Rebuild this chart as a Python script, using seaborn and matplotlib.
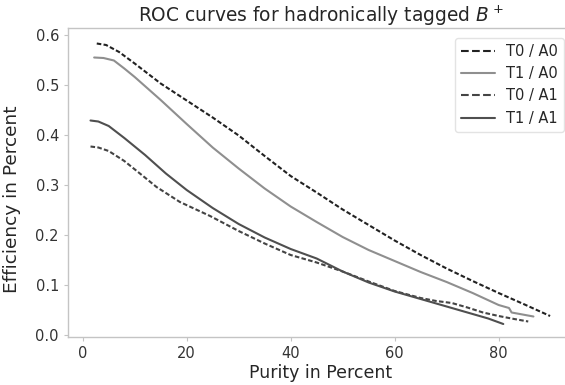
import matplotlib
matplotlib.use("Agg")
import matplotlib.pyplot as plt
from matplotlib.lines import Line2D
import pandas as pd
import seaborn as sns

# ROC curves (purity %, efficiency)
t0a0_x = [2.7, 4.5, 7, 10, 15, 20, 25, 30, 35, 40, 45, 50, 55, 60, 65, 70, 75, 80, 85, 89.9]
t0a0_y = [0.583, 0.580, 0.566, 0.543, 0.503, 0.469, 0.435, 0.399, 0.358, 0.318, 0.285, 0.251,
          0.220, 0.189, 0.160, 0.133, 0.108, 0.084, 0.061, 0.038]

t1a0_x = [2.2, 4, 6, 8, 10, 15, 20, 25, 30, 35, 40, 45, 50, 55, 60, 65, 70, 75, 80, 82, 82.5, 86.7]
t1a0_y = [0.555, 0.554, 0.549, 0.533, 0.516, 0.470, 0.422, 0.375, 0.333, 0.293, 0.257, 0.226,
          0.196, 0.170, 0.148, 0.126, 0.106, 0.084, 0.060, 0.054, 0.045, 0.037]

t0a1_x = [1.5, 3, 5, 8, 11.6, 14.2, 18.7, 24.5, 30, 35, 40, 45, 50, 55, 60, 65, 68, 71, 74, 77, 80, 83, 85.7]
t0a1_y = [0.377, 0.375, 0.368, 0.348, 0.318, 0.296, 0.266, 0.238, 0.208, 0.183, 0.160, 0.145,
          0.127, 0.107, 0.088, 0.074, 0.068, 0.064, 0.055, 0.045, 0.038, 0.032, 0.027]

t1a1_x = [1.5, 3, 5, 8, 12, 16, 20, 25, 30, 35, 40, 45, 50, 55, 60, 65, 70, 75, 78, 80.9]
t1a1_y = [0.429, 0.427, 0.418, 0.394, 0.360, 0.323, 0.290, 0.254, 0.222, 0.195, 0.172, 0.153,
          0.127, 0.105, 0.087, 0.072, 0.057, 0.042, 0.033, 0.022]

labels = ["T0 / A0", "T1 / A0", "T0 / A1", "T1 / A1"]
series = [(t0a0_x, t0a0_y), (t1a0_x, t1a0_y), (t0a1_x, t0a1_y), (t1a1_x, t1a1_y)]
colors = ["#222222", "#8f8f8f", "#444444", "#4f4f4f"]
dashed = [True, False, True, False]

sns.set_style("white", {"axes.edgecolor": "#c4c4c4", "xtick.bottom": True, "ytick.left": True})
plt.rcParams["font.family"] = ["DejaVu Sans"]

fig = plt.figure(figsize=(5.65, 3.85), dpi=100)
ax = fig.add_axes([68 / 565, 48.3 / 385, 506 / 565, 308.4 / 385])

for (xs, ys), lab, c, d in zip(series, labels, colors, dashed):
    df = pd.DataFrame({"purity": xs, "eff": ys})
    sns.lineplot(data=df, x="purity", y="eff", ax=ax, color=c, lw=1.5, sort=False,
                 linestyle=(0, (2.2, 1.1)) if d else "-", label=lab, legend=False)

ax.set_xlim(-2.83, 94.5)
ax.set_ylim(-0.0034, 0.6134)
ax.set_xticks([0, 20, 40, 60, 80])
ax.set_yticks([0.0, 0.1, 0.2, 0.3, 0.4, 0.5, 0.6])
ax.tick_params(axis="both", colors="#c4c4c4", labelcolor="#333333", labelsize=10.5, length=3, width=0.8)

for s in ax.spines.values():
    s.set_linewidth(1.0)

ax.set_title("ROC curves for hadronically tagged $B^+$", fontsize=13.4, color="#262626", pad=2.5)
ax.set_xlabel("Purity in Percent", fontsize=12.5, color="#262626", labelpad=2)
ax.set_ylabel("Efficiency in Percent", fontsize=13.3, color="#262626")
ax.yaxis.set_label_coords(-0.093, 0.445)

handles = [Line2D([], [], color=c, lw=1.5, linestyle="--" if d else "-") for c, d in zip(colors, dashed)]
leg = ax.legend(handles, labels, loc="upper right", bbox_to_anchor=(564 / 565, (385 - 38) / 385),
                bbox_transform=fig.transFigure, borderaxespad=0, fontsize=10.5, frameon=True,
                handlelength=2.3)
leg.get_frame().set_edgecolor("#dddddd")
for t in leg.get_texts():
    t.set_color("#262626")

fig.savefig("out.png", dpi=100)
